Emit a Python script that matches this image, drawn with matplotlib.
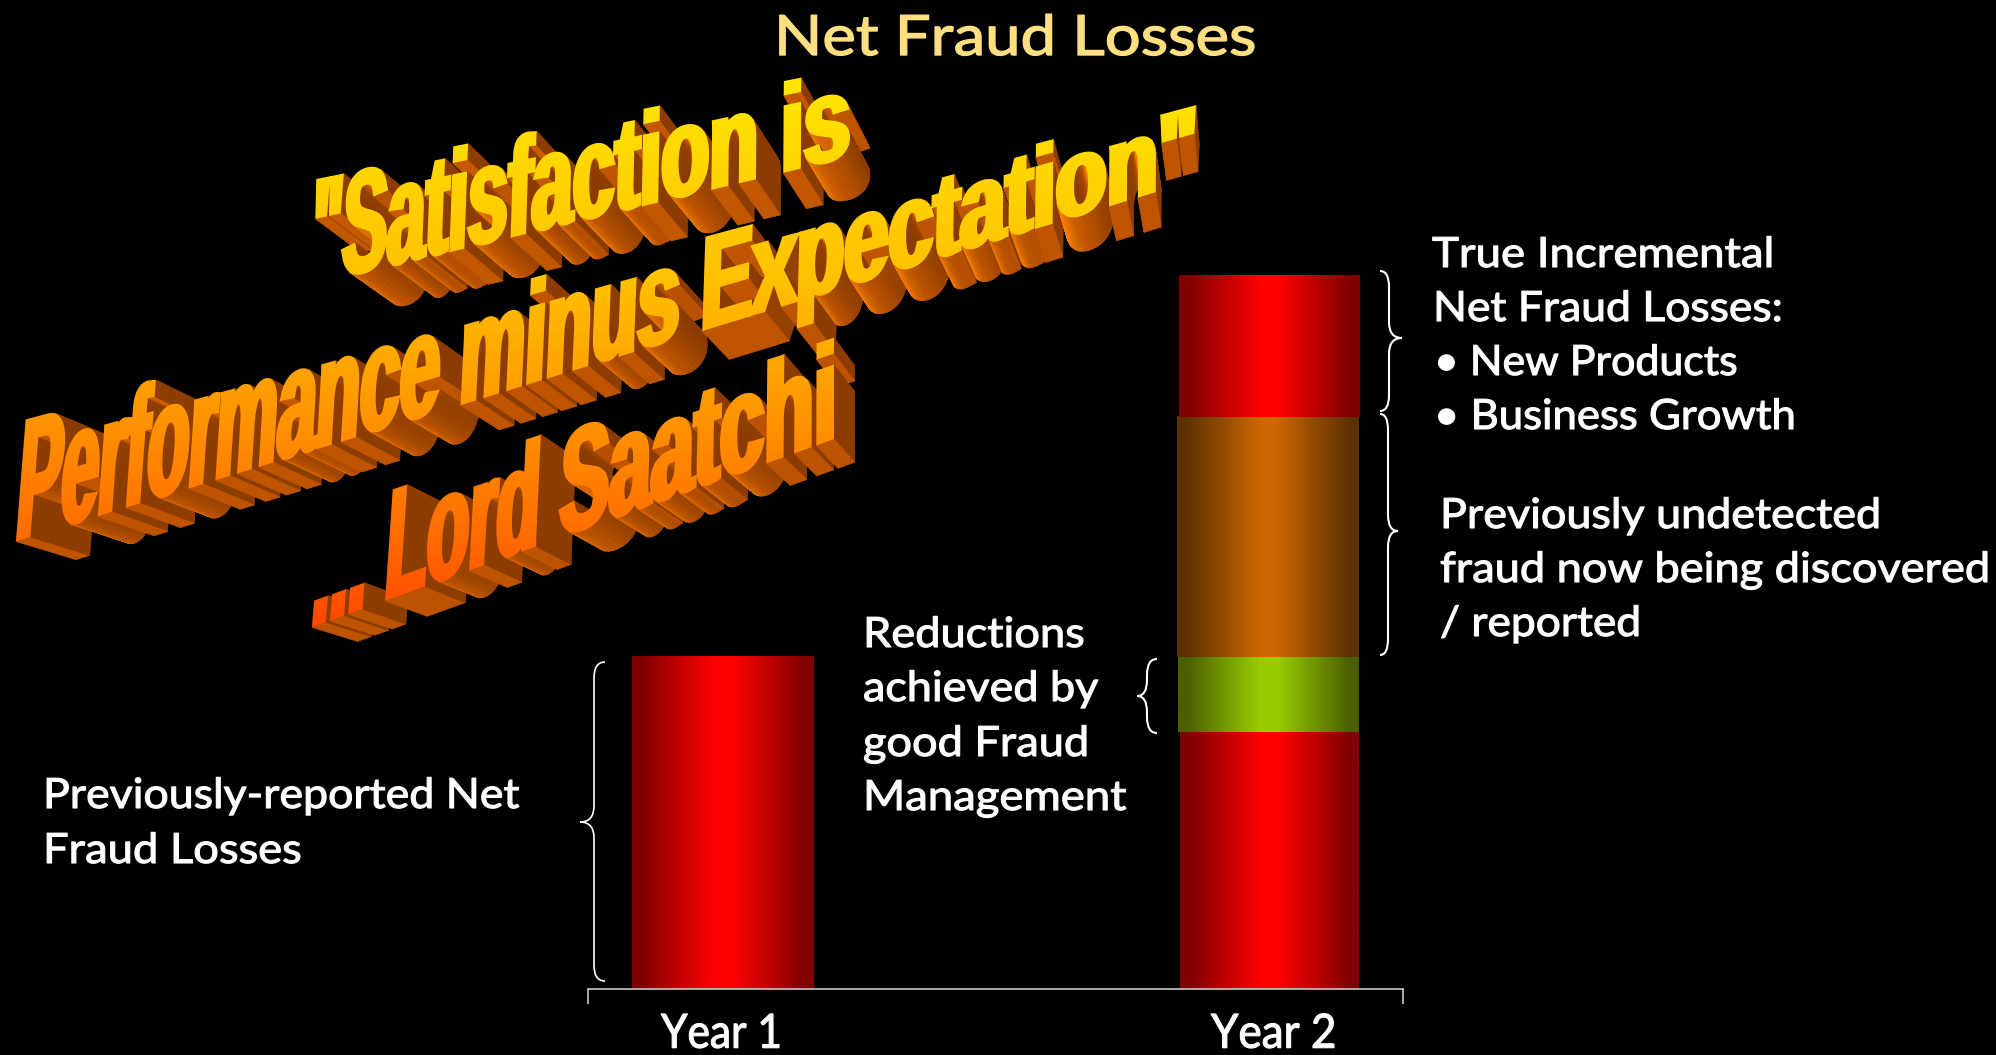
import numpy as np
import matplotlib
matplotlib.use("Agg")
import matplotlib.pyplot as plt
from matplotlib.colors import LinearSegmentedColormap, to_rgb
from matplotlib.patches import PathPatch
from matplotlib.path import Path
from matplotlib.patheffects import AbstractPathEffect
from matplotlib.transforms import Affine2D, Bbox, IdentityTransform

# ---------- data ----------
categories = ["Year 1", "Year 2"]
year1_values = [100.0]
year2_segments = ["Base losses", "Reductions", "Previously undetected", "True incremental"]
year2_values = [77.2, 22.5, 72.1, 42.6]
title = "Net Fraud Losses"
wordart_lines = ['"Satisfaction is', 'Performance minus Expectation"', '... Lord Saatchi']

W, H = 1996, 1055
BODY = "Lato"
fig = plt.figure(figsize=(W / 100, H / 100), dpi=100, facecolor="black")


def fx(x):
    return x / W


def fy(y):
    return 1 - y / H


# ---------- text effects ----------
class Fit(AbstractPathEffect):
    """Stretch a text line horizontally to span xl..xr pixels."""

    def __init__(self, xl, xr, lw=0.8):
        super().__init__()
        self.xl, self.xr, self.lw = xl, xr, lw

    def draw_path(self, renderer, gc, tpath, affine, rgbFace=None):
        m = affine.get_matrix()
        s = np.hypot(m[0, 0], m[1, 0])
        u = tpath.vertices[:, 0]
        sx = (self.xr - self.xl) / (u.max() - u.min())
        T = Affine2D().translate(-u.min(), 0).scale(sx, s).translate(self.xl, m[1, 2])
        g = renderer.new_gc()
        g.copy_properties(gc)
        g.set_linewidth(self.lw)
        g.set_foreground(rgbFace[:3])
        renderer.draw_path(g, tpath, T, rgbFace)
        g.restore()


VP = np.array([1265.0, H - 920.0])
DEPTH = 0.048
front_stops_y = [80, 280, 430, 540, 630]
front_stops_c = ["#FFE600", "#FFC000", "#FF9000", "#FF6A00", "#FF4400"]
side_phi = [-90, -60, -20, 17, 60, 90, 180]
side_c = ["#FF8000", "#FF8000", "#E07000", "#BE5400", "#9A4400", "#8C3C00", "#8C3C00"]
side_rgb = np.array([to_rgb(c) for c in side_c])
front_rgb = np.array([to_rgb(c) for c in front_stops_c])


class WordArt(AbstractPathEffect):
    def __init__(self, xl, xr, yl, yr, hl, hr, sl, sr, g=-0.12, dil=(3.8, 0.8)):
        super().__init__()
        self.p = (xl, xr, yl, yr, hl, hr, sl, sr, g)
        self.dil = dil

    def warp(self, uv, umin, umax):
        xl, xr, yl, yr, hl, hr, sl, sr, g = self.p
        t = (uv[:, 0] - umin) / (umax - umin)
        t2 = t * (1 + g) / (1 + g * t)
        x0 = xl + (xr - xl) * t2
        base = yl + (yr - yl) * t2
        h = hl + (hr - hl) * t2
        vn = uv[:, 1] / 143.2
        skew = sl + (sr - sl) * t2
        return np.column_stack([x0 + vn * h * skew, H - base + vn * h])

    def draw_path(self, renderer, gc, tpath, affine, rgbFace=None):
        polys = tpath.to_polygons(Affine2D().scale(2), closed_only=True)
        polys = [p[:-1] for p in polys if len(p) > 3]
        area = sum(0.5 * np.sum(p[:, 0] * np.roll(p[:, 1], -1) - np.roll(p[:, 0], -1) * p[:, 1]) for p in polys)
        orient = 1.0 if area < 0 else -1.0
        fat = []
        for p in polys:
            e = np.roll(p, -1, axis=0) - p
            n = np.column_stack([-e[:, 1], e[:, 0]]) * orient
            n /= np.maximum(np.hypot(n[:, 0], n[:, 1]), 1e-9)[:, None]
            nprev = np.roll(n, 1, axis=0)
            d = 1 + np.sum(n * nprev, axis=1)
            v = (n + nprev) / np.maximum(d, 0.5)[:, None]
            fat.append(p + v * np.array(self.dil) * 2)
        umin = min(p[:, 0].min() for p in fat)
        umax = max(p[:, 0].max() for p in fat)
        warped = [self.warp(p, umin, umax) for p in fat]

        # side faces of the extrusion, far from the vanishing point first
        quads = []
        for p in warped:
            q = np.roll(p, -1, axis=0)
            for a, b in zip(p, q):
                e = b - a
                ln = np.hypot(*e)
                if ln < 1e-6:
                    continue
                n = np.array([-e[1], e[0]]) * orient / ln
                mid = (a + b) / 2
                if np.dot(n, VP - mid) <= 0:
                    continue
                phi = np.degrees(np.arctan2(n[0], -n[1]))
                col = [np.interp(phi, side_phi, side_rgb[:, i]) for i in range(3)]
                a2 = a + DEPTH * (VP - a)
                b2 = b + DEPTH * (VP - b)
                dist = np.hypot(*(VP - mid))
                quads.append((dist, np.array([a, b, b2, a2, a]), col))
        quads.sort(key=lambda r: -r[0])
        g = renderer.new_gc()
        g.copy_properties(gc)
        g.set_linewidth(0.6)
        codes = [Path.MOVETO, Path.LINETO, Path.LINETO, Path.LINETO, Path.CLOSEPOLY]
        for _, q, col in quads:
            g.set_foreground(col)
            renderer.draw_path(g, Path(q, codes), IdentityTransform(), tuple(col))
        g.restore()

        # front face with a vertical gradient, band by band
        verts, cds = [], []
        for p in warped:
            verts.extend(p.tolist() + [p[0].tolist()])
            cds.extend([Path.MOVETO] + [Path.LINETO] * (len(p) - 1) + [Path.CLOSEPOLY])
        face = Path(np.array(verts), cds)
        ys = np.array(verts)[:, 1]
        g = renderer.new_gc()
        g.copy_properties(gc)
        g.set_linewidth(0)
        for y in np.arange(np.floor(ys.min()), np.ceil(ys.max()) + 2, 2):
            col = tuple(np.interp(H - (y + 1), front_stops_y, front_rgb[:, i]) for i in range(3))
            g.set_clip_rectangle(Bbox([[0, y], [W, y + 2]]))
            renderer.draw_path(g, face, IdentityTransform(), col)
        g.restore()


# ---------- chart ----------
AX_L, AX_R, AX_B = 588, 1403, 989
PX_PER_UNIT_Y = 3.33
total = sum(year2_values)
AX_T = AX_B - total * PX_PER_UNIT_Y
ax = fig.add_axes([fx(AX_L), fy(AX_B), (AX_R - AX_L) / W, (AX_B - AX_T) / H])
ax.patch.set_alpha(0)
PX_PER_CAT = 546.0
xlim = ((AX_L - 723) / PX_PER_CAT, (AX_R - 723) / PX_PER_CAT)

red = ("#800000", "#FF0000")
orange = ("#5C3000", "#CC6600")
green = ("#4B6000", "#99CC00")
year2_colors = [red, green, orange, red]
year2_spans = [(1180, 1359), (1178, 1359), (1177, 1359), (1179, 1360)]


def grad_bar(x_left_px, x_right_px, bottom, height, cols):
    cx = ((x_left_px + x_right_px) / 2 - 723) / PX_PER_CAT
    w = (x_right_px - x_left_px) / PX_PER_CAT
    bar = ax.bar(cx, height, width=w, bottom=bottom, color=cols[1], linewidth=0, zorder=2)[0]
    cmap = LinearSegmentedColormap.from_list(
        "g", [(0, cols[0]), (0.05, cols[0]), (0.45, cols[1]), (0.55, cols[1]), (0.95, cols[0]), (1, cols[0])])
    ax.imshow(np.linspace(0, 1, 256)[None, :], cmap=cmap, aspect="auto", zorder=2.1,
              extent=(bar.get_x(), bar.get_x() + bar.get_width(), bottom, bottom + height),
              interpolation="bilinear")


grad_bar(632, 814, 0, year1_values[0], red)
base = 0.0
for v, c, span in zip(year2_values, year2_colors, year2_spans):
    grad_bar(span[0], span[1], base, v, c)
    base += v
ax.set_xlim(*xlim)
ax.set_ylim(0, total)
for s in ("top", "left", "right"):
    ax.spines[s].set_visible(False)
ax.spines["bottom"].set_color("#C8C8C8")
ax.spines["bottom"].set_linewidth(1.2)
ax.spines["bottom"].set_zorder(3)
ax.set_yticks([])
ax.set_xticks(list(xlim))
ax.set_xticklabels(["", ""])
ax.tick_params(axis="x", which="major", length=10.8, width=1.2, color="#C8C8C8")
ax.set_xticks([0, 1], minor=True)
ax.set_xticklabels(categories, minor=True, fontsize=34, color="white", family=BODY)
ax.tick_params(axis="x", which="minor", length=0, pad=42.3)
for lab, span in zip(ax.get_xminorticklabels(), [(661, 779), (1211, 1334)]):
    lab.set_va("baseline")
    lab.set_path_effects([Fit(span[0], span[1])])

# ---------- text ----------
fig.text(fx(774), fy(55), title, color="#FFDF80", fontsize=40, family=BODY, va="baseline",
         path_effects=[Fit(774, 1254, 1.0)])

notes = [
    ("True Incremental", 1432, 1771, 267),
    ("Net Fraud Losses:", 1433, 1780, 321),
    ("\u2022 New Products", 1434, 1736, 375),
    ("\u2022 Business Growth", 1434, 1793, 429),
    ("Previously undetected", 1440, 1878, 528),
    ("fraud now being discovered", 1440, 1987, 582),
    ("/ reported", 1440, 1638, 636),
    ("Reductions", 863, 1083, 647),
    ("achieved by", 863, 1098, 701),
    ("good Fraud", 863, 1086, 756),
    ("Management", 863, 1126, 810),
    ("Previously-reported Net", 43, 519, 808),
    ("Fraud Losses", 43, 300, 863),
]
for s, xl, xr, yb in notes:
    fig.text(fx(xl), fy(yb), s, color="white", fontsize=30, family=BODY, va="baseline",
             path_effects=[Fit(xl, xr)])


# ---------- braces ----------
def brace(xs, xsp, xt, y0, ym, y1, lw):
    r = min(16, (y1 - y0) * 0.22)
    pts = [(xs, y0), (xsp, y0), (xsp, y0 + r), (xsp, ym - r), (xsp, ym), (xt, ym),
           (xsp, ym), (xsp, ym + r), (xsp, y1 - r), (xsp, y1), (xs, y1)]
    codes = [Path.MOVETO, Path.CURVE3, Path.CURVE3, Path.LINETO, Path.CURVE3, Path.CURVE3,
             Path.CURVE3, Path.CURVE3, Path.LINETO, Path.CURVE3, Path.CURVE3]
    v = np.array([(fx(a), fy(b)) for a, b in pts])
    fig.add_artist(PathPatch(Path(v, codes), fill=False, edgecolor="white", linewidth=lw,
                             transform=fig.transFigure))


brace(1380, 1389, 1402, 271, 338, 411, 1.5)
brace(1380, 1388, 1398, 414, 531, 655, 1.5)
brace(1157, 1147, 1137, 659, 696, 733, 1.5)
brace(605, 594, 580, 662, 822, 981, 1.2)

# ---------- word art ----------
specs = [
    (wordart_lines[0], 311, 850, 284, 156, 108, 86, 0.05, 0.0, 44, 13.3),
    (wordart_lines[1], 16, 1196, 540, 179, 124, 76, 0.08, 0.0, 50, 16.7),
    (wordart_lines[2], 312, 834, 626, 438, 116, 98, 0.08, 0.0, 44, 19.8),
]
for s, xl, xr, yl, yr, hl, hr, sl, sr, fs, rot in specs:
    fig.text(fx(xl), fy(yl), s, fontsize=fs, family="Liberation Sans", weight="bold", color="#FF9C00",
             rotation=rot, rotation_mode="anchor", ha="left", va="baseline", zorder=5,
             path_effects=[WordArt(xl, xr, yl, yr, hl, hr, sl, sr)])

fig.savefig("out.png", dpi=100, facecolor="black")
